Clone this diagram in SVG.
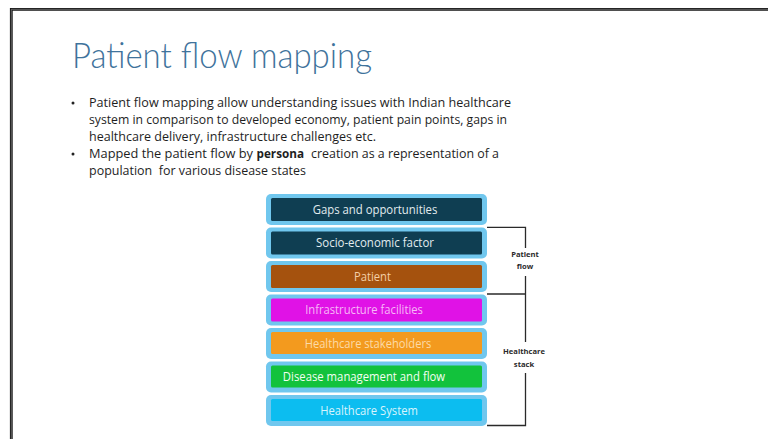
<svg xmlns="http://www.w3.org/2000/svg" width="768" height="439" viewBox="0 0 768 439">
  <style>
    .title { font-family: Lato, "Open Sans", sans-serif; font-weight: 300; font-size: 35px; fill: #3f739c; }
    .body { font-family: "Open Sans", "Liberation Sans", sans-serif; font-size: 12.5px; fill: #1e1e1e; }
    .bold { font-weight: 700; }
    .outer { fill: #70c7ee; }
    .label { font-family: "Open Sans", "Liberation Sans", sans-serif; font-size: 12px; text-anchor: middle; }
    .side { font-family: "Open Sans", "Liberation Sans", sans-serif; font-size: 7.6px; font-weight: 700; fill: #2b2b2b; text-anchor: middle; }
    .bracket { fill: none; stroke: #2a2a2a; stroke-width: 1.3; }
  </style>

  <rect x="0" y="0" width="768" height="439" fill="#ffffff"/>

  <!-- slide border (left and top edges) -->
  <path d="M11.3 439 V9.3 H768" fill="none" stroke="#161616" stroke-width="2.8"/>
  <path d="M11.3 439 V9.3 H768" fill="none" stroke="#9a9a9a" stroke-width="0.6"/>

  <!-- heading -->
  <text class="title" x="72" y="68" textLength="300" lengthAdjust="spacingAndGlyphs">Patient flow mapping</text>

  <!-- bullet list -->
  <g id="bullets">
    <circle cx="73" cy="103" r="1.5" fill="#222"/>
    <text class="body" x="89" y="107" textLength="422" lengthAdjust="spacingAndGlyphs">Patient flow mapping allow understanding issues with Indian healthcare</text>
    <text class="body" x="89" y="124" textLength="418" lengthAdjust="spacingAndGlyphs">system in comparison to developed economy, patient pain points, gaps in</text>
    <text class="body" x="89" y="141" textLength="287" lengthAdjust="spacingAndGlyphs">healthcare delivery, infrastructure challenges etc.</text>
    <circle cx="73" cy="154" r="1.5" fill="#222"/>
    <text class="body" x="89" y="158" textLength="164" lengthAdjust="spacingAndGlyphs">Mapped the patient flow by</text>
    <text class="body bold" x="256.5" y="158" textLength="47.5" lengthAdjust="spacingAndGlyphs">persona</text>
    <text class="body" x="311" y="158" textLength="188" lengthAdjust="spacingAndGlyphs">creation as a representation of a</text>
    <text class="body" x="89" y="175" textLength="217" lengthAdjust="spacingAndGlyphs" xml:space="preserve">population  for various disease states</text>
  </g>

  <!-- stacked layers -->
  <g id="gaps">
    <rect class="outer" x="266" y="194" width="221" height="31" rx="5"/>
    <rect x="271" y="198" width="211" height="23" rx="1.5" fill="#0f3e52"/>
    <text class="label" x="375" y="213.8" fill="#e2ecef" textLength="124.7" lengthAdjust="spacingAndGlyphs">Gaps and opportunities</text>
  </g>
  <g id="socio">
    <rect class="outer" x="266" y="227.5" width="221" height="31" rx="5"/>
    <rect x="271" y="231.5" width="211" height="23" rx="1.5" fill="#0f3e52"/>
    <text class="label" x="375" y="247.3" fill="#e2ecef" textLength="118" lengthAdjust="spacingAndGlyphs">Socio-economic factor</text>
  </g>
  <g id="patient">
    <rect class="outer" x="266" y="261" width="221" height="31" rx="5"/>
    <rect x="271" y="265" width="211" height="23" rx="1.5" fill="#a5520e"/>
    <text class="label" x="372.5" y="280.8" fill="#f4cfa6" textLength="37" lengthAdjust="spacingAndGlyphs">Patient</text>
  </g>
  <g id="infrastructure">
    <rect class="outer" x="266" y="294.5" width="221" height="31" rx="5"/>
    <rect x="271" y="298.5" width="211" height="23" rx="1.5" fill="#e012e6"/>
    <text class="label" x="364" y="314.3" fill="#f7b8f7" textLength="117.7" lengthAdjust="spacingAndGlyphs">Infrastructure facilities</text>
  </g>
  <g id="stakeholders">
    <rect class="outer" x="266" y="328" width="221" height="31" rx="5"/>
    <rect x="271" y="332" width="211" height="22" rx="1.5" fill="#f39a1e"/>
    <text class="label" x="368" y="347.6" fill="#fcdaa8" textLength="126.7" lengthAdjust="spacingAndGlyphs">Healthcare stakeholders</text>
  </g>
  <g id="disease">
    <rect class="outer" x="266" y="361.5" width="221" height="31" rx="5"/>
    <rect x="271" y="365.5" width="211" height="22" rx="1.5" fill="#12c23c"/>
    <text class="label" x="364" y="381.1" fill="#f2fff2" textLength="162.3" lengthAdjust="spacingAndGlyphs">Disease management and flow</text>
  </g>
  <g id="system">
    <rect class="outer" x="266" y="395" width="221" height="31" rx="5"/>
    <rect x="271" y="399" width="211" height="22" rx="1.5" fill="#0cbdf0"/>
    <text class="label" x="369" y="414.6" fill="#d8f4fd" textLength="97.7" lengthAdjust="spacingAndGlyphs">Healthcare System</text>
  </g>

  <!-- brackets grouping the layers -->
  <g id="connectors">
    <path class="bracket" d="M487 227.3 H525.5 V248"/>
    <path class="bracket" d="M525.5 276 V342"/>
    <path class="bracket" d="M487 294 H525.5"/>
    <path class="bracket" d="M525.5 373 V425.5 H487"/>
  </g>

  <g id="patient-flow-label">
    <text class="side" x="525" y="256.5">Patient</text>
    <text class="side" x="525" y="269">flow</text>
  </g>
  <g id="healthcare-stack-label">
    <text class="side" x="524" y="354">Healthcare</text>
    <text class="side" x="524" y="367">stack</text>
  </g>
</svg>
